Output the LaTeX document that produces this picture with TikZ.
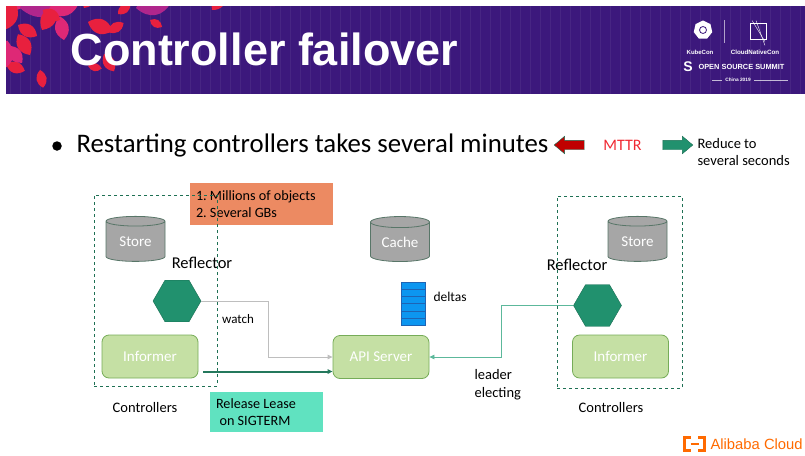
\documentclass[tikz,border=0pt]{standalone}
\usepackage{fontspec}
\setmainfont{Carlito}
\newfontfamily\headfont{Liberation Sans}
\usetikzlibrary{shapes.geometric,shapes.arrows,arrows.meta,positioning,calc}
\frenchspacing

\definecolor{bandpurple}{RGB}{60,24,124}
\definecolor{leafred}{RGB}{232,32,62}
\definecolor{leafpink}{RGB}{222,40,118}
\definecolor{leafmag}{RGB}{176,38,140}
\definecolor{storegray}{RGB}{166,166,166}
\definecolor{storeedge}{RGB}{88,118,104}
\definecolor{hexgreen}{RGB}{33,145,110}
\definecolor{hexedge}{RGB}{26,110,84}
\definecolor{infogreen}{RGB}{197,224,164}
\definecolor{infoedge}{RGB}{118,172,88}
\definecolor{boxgreen}{RGB}{30,112,84}
\definecolor{noteorange}{RGB}{236,138,98}
\definecolor{leasemint}{RGB}{96,226,192}
\definecolor{deltablue}{RGB}{12,150,240}
\definecolor{deltaedge}{RGB}{30,100,180}
\definecolor{watchgray}{RGB}{190,190,190}
\definecolor{releasegreen}{RGB}{36,120,92}
\definecolor{electgreen}{RGB}{92,184,155}
\definecolor{mttrred}{RGB}{240,40,50}
\definecolor{arrowred}{RGB}{192,0,0}
\definecolor{aliorange}{RGB}{255,106,0}

\tikzset{
  store/.style={cylinder, shape border rotate=90, aspect=0.3, draw=storeedge, fill=storegray,
    thick, minimum width=59, minimum height=45, inner sep=0, text=white,
    font=\fontsize{15}{17}\selectfont},
  hexa/.style={regular polygon, regular polygon sides=6, draw=hexedge, fill=hexgreen,
    minimum size=48, inner sep=0},
  infobox/.style={rectangle, rounded corners=7, draw=infoedge, fill=infogreen, thick,
    minimum width=96, minimum height=43, text=white, font=\fontsize{15}{17}\selectfont},
  ctrlbox/.style={rectangle, draw=boxgreen, dashed, thick},
  note/.style={rectangle, align=flush left, inner xsep=6, inner ysep=0,
    font=\fontsize{14.2}{17}\selectfont},
  blockarrow/.style={single arrow, draw=hexedge, minimum height=30, inner xsep=0,
    inner ysep=4.5, single arrow head extend=4, single arrow tip angle=80},
  lbl/.style={font=\fontsize{#1}{#1}\selectfont},
  logotext/.style={text=white, font=\headfont\bfseries\fontsize{#1}{#1}\selectfont},
}

\begin{document}
\begin{tikzpicture}[x=1pt,y=-1pt,>={Triangle[length=5pt,width=4.5pt]}]
\useasboundingbox (0,0) rectangle (805,455);

% header band with leaves
\fill[bandpurple] (6,6) rectangle (805,94);
\begin{scope}
  \clip (6,6) rectangle (805,94);
  \draw[white,opacity=0.06,step=10] (6,6) grid (805,94);
  \foreach \lx/\ly/\la/\ll/\lc in {
      2/10/40/40/leafpink, 20/8/10/45/leafmag, 4/30/70/30/leafred,
      18/25/-30/22/leafred, 42/30/60/26/leafred, 30/55/120/24/leafred,
      6/64/-20/20/leafred, 2/70/80/30/leafpink, 48/12/20/34/leafpink,
      84/8/60/22/leafred, 88/22/-20/26/leafred, 108/32/30/18/leafred,
      104/54/-60/20/leafred, 88/66/-10/14/leafred, 136/8/10/36/leafmag,
      176/6/50/14/leafred, 212/10/50/20/leafred, 228/6/80/16/leafred,
      270/6/40/14/leafmag, 280/6/70/16/leafred, 64/40/100/24/leafpink,
      8/46/-50/22/leafpink, 60/20/150/20/leafred, 118/14/40/16/leafred,
      40/70/-80/18/leafred, 150/20/-30/14/leafred}
    \fill[\lc,shift={(\lx,\ly)},rotate=\la]
      (0,0) .. controls (0.3*\ll,0.38*\ll) and (0.7*\ll,0.38*\ll) .. (\ll,0)
            .. controls (0.7*\ll,-0.38*\ll) and (0.3*\ll,-0.38*\ll) .. (0,0);
\end{scope}
\node[anchor=base west, text=white, font=\headfont\bfseries\fontsize{45}{50}\selectfont]
  (title) at (67,65) {Controller failover};

% conference logo
\node[regular polygon, regular polygon sides=7, fill=white, minimum size=19, inner sep=0]
  (kubeicon) at (703,30) {};
\draw[bandpurple, thick] (kubeicon.center) circle (3.5);
\draw[white, opacity=0.6] (724,20) -- (724,43);
\node[draw=white, thick, minimum size=16, inner sep=0] (cncicon) at (758.5,31) {};
\draw[white] ([shift={(2,-2)}]cncicon.north west) -- ([shift={(-2,2)}]cncicon.south east);
\draw[white] ([shift={(6,-2)}]cncicon.north west) -- ([shift={(-2,6)}]cncicon.south east);
\node[logotext=6] (kubename) at (700,52) {KubeCon};
\node[logotext=6.2] (cncname) at (755,52) {CloudNativeCon};
\node[logotext=14] (ossicon) at (688,67) {S};
\node[logotext=7.4, anchor=west] (ossname) at (695,67) {OPEN SOURCE SUMMIT};
\node[logotext=4.8] (china) at (738,80) {China 2019};
\draw[white, opacity=0.7] (712,80) -- (china.west);
\draw[white, opacity=0.7] (china.east) -- (788,80);

% the claim and the goal
\node[circle, fill=black, minimum size=9.5, inner sep=0] (dot) at (57,146) {};
\node[anchor=base west, font=\fontsize{26.8}{30}\selectfont] (claim) at (73,152.5)
  {Restarting controllers takes several minutes};
\node[blockarrow, shape border rotate=180, fill=arrowred] (slower) at (572,145) {};
\node[text=mttrred, lbl=16] (mttr) at (622.5,145) {MTTR};
\node[blockarrow, fill=hexgreen] (faster) at (675,145) {};
\node[anchor=west, align=left, font=\fontsize{14.5}{17}\selectfont] (goal) at (694,152)
  {Reduce to\\several seconds};

% left controller
\node[note, fill=noteorange, text width=131, minimum height=42] (objects) at (261.5,204)
  {1. Millions of objects\\2. Several GBs};
\node[store] (storeL) at (135.5,241.5) {Store};
\node[lbl=16.5] (reflL) at (202,263) {Reflector};
\node[hexa] (hexL) at (177,301) {};
\node[infobox] (infL) at (150,356.5) {Informer};
\node[ctrlbox, minimum width=123, minimum height=191] (ctrlL) at (155.5,290.5) {};
\node[lbl=14.5] (ctrlnameL) at (145,408) {Controllers};
\node[note, fill=leasemint, text width=101, minimum height=40] (lease) at (266.5,412)
  {Release Lease\\\hspace*{0.25em}on SIGTERM};

% api server
\node[store] (cache) at (400,242) {Cache};
\node[rectangle, fill=deltablue, draw=deltaedge, minimum width=24, minimum height=43,
  inner sep=0] (deltas) at (413,303.5) {};
\foreach \i in {1,...,5}
  \draw[deltaedge] ($(deltas.north west)!\i/6!(deltas.south west)$)
    -- ($(deltas.north east)!\i/6!(deltas.south east)$);
\node[lbl=13.5, anchor=west] (deltaname) at (430,297) {deltas};
\node[infobox] (api) at (381,357) {API Server};

% right controller
\node[store] (storeR) at (637.5,241.5) {Store};
\node[lbl=16.5] (reflR) at (577,265) {Reflector};
\node[hexa] (hexR) at (597.5,305.5) {};
\node[infobox] (infR) at (620.5,356.5) {Informer};
\node[ctrlbox, minimum width=125, minimum height=192] (ctrlR) at (619.5,292) {};
\node[lbl=14.5] (ctrlnameR) at (611,408) {Controllers};

% connectors
\draw[watchgray, thick, ->] (hexL.east) -- ++(67,0) |- (api.west);
\node[lbl=13] (watch) at (238,319) {watch};
\coordinate (relStart) at ([xshift=5pt,yshift=-15pt]infL.east);
\draw[releasegreen, line width=2pt, ->] (relStart) -- (relStart -| api.west);
\draw[electgreen, thick, ->] (hexR.west) -- ++(-72,0) |- (api.east);
\node[anchor=north west, align=left, font=\fontsize{14.5}{18}\selectfont] (elect)
  at (471,366) {leader\\electing};

% vendor logo
\draw[aliorange, line width=2.2pt] (691,437.5) -- (684.5,437.5) -- (684.5,450.5) -- (691,450.5);
\draw[aliorange, line width=2.2pt] (698,437.5) -- (704.5,437.5) -- (704.5,450.5) -- (698,450.5);
\draw[aliorange, line width=2.2pt] (690.5,444) -- (698.5,444);
\node[anchor=west, text=aliorange, font=\headfont\fontsize{14.8}{16}\selectfont]
  (aliname) at (707,444) {Alibaba Cloud};
\end{tikzpicture}
\end{document}
